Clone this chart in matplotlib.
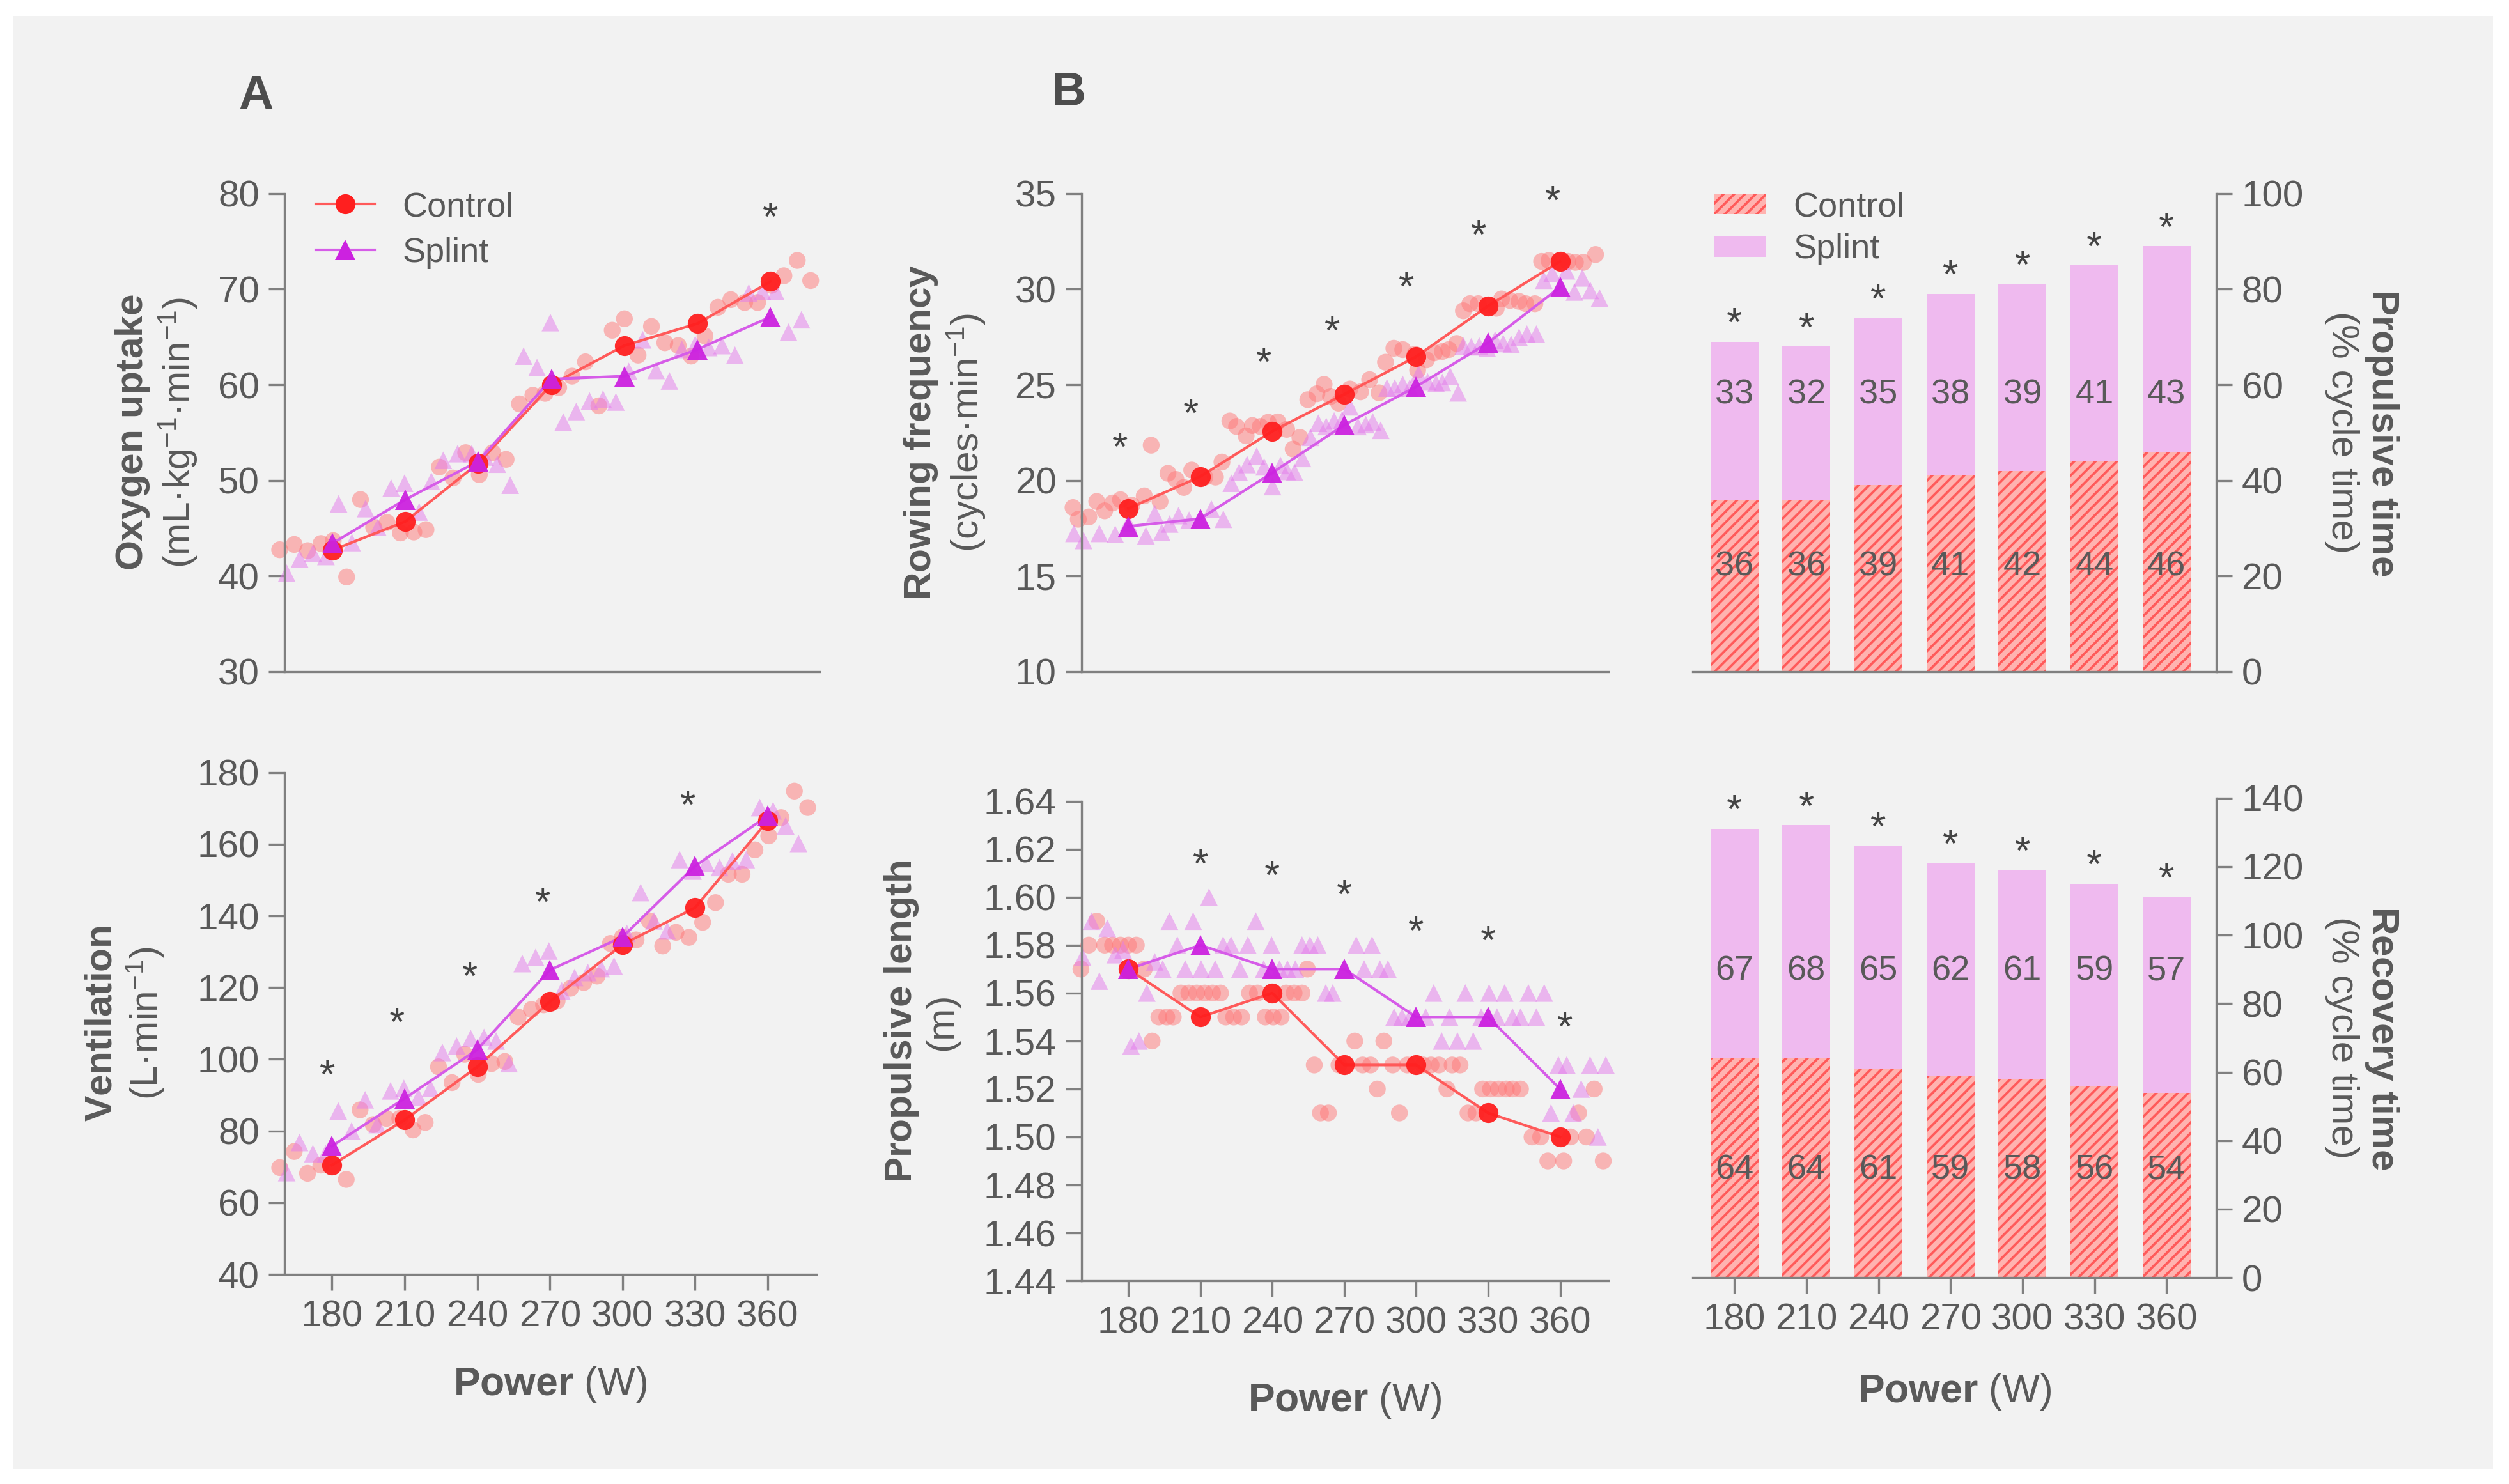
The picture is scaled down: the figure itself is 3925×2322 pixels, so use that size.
import numpy as np
import matplotlib
matplotlib.use('Agg')
import matplotlib.pyplot as plt
from matplotlib.lines import Line2D
from matplotlib.patches import Patch, Rectangle

plt.rcParams['font.family'] = ['Liberation Sans', 'DejaVu Sans']
plt.rcParams['mathtext.fontset'] = 'custom'
plt.rcParams['mathtext.rm'] = 'Liberation Sans'
plt.rcParams['mathtext.bf'] = 'Liberation Sans:bold'
plt.rcParams['mathtext.it'] = 'Liberation Sans:italic'
plt.rcParams['hatch.linewidth'] = 0.9

TXT = '#595959'
SPINE = '#808080'

power = [180, 210, 240, 270, 300, 330, 360]

# ---------------- oxygen uptake ----------------
vo2_ctrl_mean = [42.7, 45.7, 51.8, 60.0, 64.1, 66.4, 70.8]
vo2_spl_mean = [43.4, 48.0, 52.0, 60.6, 60.9, 63.7, 67.1]
pos_ctrl_a = [158.4, 164.4, 169.9, 175.4, 180.4, 185.9, 191.6, 197.0, 202.5, 208.0, 213.5,
              218.5, 224.0, 229.6, 234.8, 240.4, 245.9, 251.4, 256.9, 262.4, 267.4, 273.0,
              278.5, 284.0, 289.5, 295.0, 300.0, 305.6, 311.1, 316.6, 322.1, 327.4, 333.1,
              338.4, 343.7, 349.4, 354.7, 360.4, 365.5, 371.0, 376.5]
pos_spl_a = [161.3, 166.6, 172.1, 177.4, 182.6, 188.1, 193.7, 198.7, 204.2, 209.7, 215.7,
             220.7, 225.6, 231.5, 237.3, 242.8, 247.8, 253.1, 258.6, 264.1, 269.6, 274.9,
             280.2, 285.7, 291.2, 296.5, 301.8, 307.5, 313.0, 318.5, 323.6, 329.1, 334.6,
             340.1, 345.4, 351.1, 356.7, 362.2, 367.4, 372.7]
vo2_ctrl_pts = [42.75, 43.3, 42.65, 43.4, 43.7, 39.9, 48.0, 45.1, 45.6, 44.5, 44.6, 44.85,
                51.4, 50.25, 52.9, 50.6, 52.9, 52.2, 58.0, 58.9, 59.1, 59.7, 60.9, 62.4,
                57.8, 65.7, 66.9, 63.1, 66.1, 64.4, 64.1, 63.0, 65.1, 68.1, 68.9, 68.6,
                68.6, 70.4, 71.4, 73.0, 70.9]
vo2_spl_pts = [40.3, 41.8, 42.4, 42.05, 47.55, 43.5, 47.05, 45.1, 49.2, 49.7, 46.7, 49.9,
               52.1, 52.8, 52.8, 52.45, 51.7, 49.5, 63.0, 61.8, 66.5, 56.1, 57.2, 58.3,
               58.5, 58.2, 61.4, 64.7, 61.5, 60.4, 63.7, 64.2, 63.9, 64.1, 63.1, 69.6,
               69.75, 69.75, 65.5, 66.8]
vo2_star = [(360, 77.3)]

# ---------------- ventilation ----------------
ve_ctrl_mean = [70.5, 83.1, 97.9, 116.1, 132.0, 142.3, 166.5]
ve_spl_mean = [75.8, 89.1, 102.7, 124.9, 134.1, 153.9, 167.9]
ve_ctrl_pts = [69.8, 74.3, 68.2, 70.5, 70.7, 66.5, 85.9, 81.8, 83.5, 83.5, 80.3, 82.4,
               97.9, 93.5, 101.4, 95.8, 98.8, 99.4, 111.8, 113.9, 115.2, 116.3, 119.8,
               121.4, 123.2, 132.3, 134.1, 133.3, 138.6, 131.6, 135.4, 134.0, 138.2,
               143.7, 151.6, 151.6, 158.4, 162.3, 167.4, 174.8, 170.2]
ve_spl_pts = [68.4, 76.8, 73.7, 73.7, 85.6, 80.0, 88.7, 81.8, 91.2, 91.9, 89.4, 91.9,
              101.9, 103.7, 105.8, 106.1, 105.1, 98.8, 126.7, 128.4, 130.2, 119.1, 122.8,
              124.2, 125.3, 126.0, 135.1, 146.5, 138.6, 135.8, 155.7, 152.5, 154.6, 153.5,
              155.3, 155.7, 170.2, 169.3, 165.1, 160.2]
ve_star = [(178, 95.0), (207, 109.7), (237, 122.5), (267, 143.2), (327, 170.2)]

# ---------------- rowing frequency ----------------
rf_ctrl_mean = [18.53, 20.2, 22.57, 24.5, 26.47, 29.12, 31.45]
rf_spl_mean = [17.6, 18.0, 20.4, 22.9, 24.9, 27.2, 30.1]
rf_ctrl_x = [156.9, 159.1, 163.5, 166.8, 170.1, 173.4, 176.7, 181.5, 186.6, 189.5,
             193.2, 196.5, 199.8, 203.1, 206.4, 211.9, 216.3, 219.0, 222.3, 225.1,
             229.1, 231.7, 235.0, 238.3, 242.3, 246.0, 248.7, 251.5, 254.8, 258.6,
             261.6, 264.3, 267.6, 272.4, 276.8, 280.6, 284.5, 287.2, 290.7, 294.4,
             299.5, 300.6, 304.3, 307.6, 310.9, 313.6, 316.9, 319.7, 322.4, 325.9,
             330.3, 333.4, 335.6, 339.1, 342.9, 345.7, 349.5, 352.3, 355.4, 359.4,
             363.3, 366.4, 369.7, 374.8]
rf_ctrl_pts = [18.58, 17.97, 18.09, 18.9, 18.41, 18.82, 18.99, 18.70, 19.19, 21.84,
               18.9, 20.37, 20.05, 19.63, 20.54, 20.17, 20.17, 20.96, 23.11, 22.82,
               22.33, 22.87, 22.82, 23.04, 23.06, 22.67, 21.64, 22.25, 24.22, 24.53,
               25.02, 24.39, 24.04, 24.78, 24.63, 25.27, 24.58, 26.18, 26.91, 26.84,
               26.59, 25.76, 26.30, 26.67, 26.74, 26.84, 27.16, 28.87, 29.24, 29.24,
               29.17, 29.0, 29.49, 29.41, 29.36, 29.24, 29.24, 31.45, 31.5, 31.45,
               31.45, 31.4, 31.4, 31.81]
rf_spl_x = [157.3, 161.3, 167.9, 174.5, 180.0, 187.3, 191.0, 193.9, 197.2, 200.9,
            205.3, 209.7, 214.6, 219.6, 222.9, 226.2, 229.5, 233.5, 236.6, 240.1,
            243.4, 246.2, 249.3, 252.6, 255.9, 259.2, 262.5, 265.8, 269.1, 272.4,
            275.7, 279.0, 281.9, 285.2, 287.8, 291.1, 294.4, 297.3, 301.0, 304.8,
            308.3, 310.9, 314.2, 317.5, 319.7, 323.0, 326.3, 329.6, 332.9, 336.3,
            339.6, 342.9, 346.2, 350.1, 353.2, 356.7, 360.0, 362.7, 366.0, 369.3,
            372.6, 376.5]
rf_spl_pts = [17.23, 16.86, 17.23, 17.18, 17.77, 17.11, 18.26, 17.28, 17.72, 18.16,
              17.92, 17.97, 18.50, 17.97, 19.85, 20.42, 20.83, 21.27, 20.71, 19.68,
              20.78, 20.47, 20.42, 21.15, 22.25, 22.99, 22.82, 23.11, 23.16, 23.85,
              22.82, 22.92, 23.06, 22.62, 24.83, 24.83, 25.02, 24.83, 25.56, 25.15,
              25.07, 25.12, 25.44, 24.58, 27.03, 26.99, 27.03, 26.91, 27.33, 27.16,
              27.11, 27.48, 27.65, 27.65, 30.47, 30.83, 30.1, 30.96, 29.85, 30.59,
              29.93, 29.53]
rf_star = [(176.5, 21.6), (206, 23.4), (236.5, 26.05), (265, 27.7), (296, 30.0),
           (326, 32.7), (357, 34.5)]

# ---------------- propulsive length ----------------
pl_ctrl_mean = [1.57, 1.55, 1.56, 1.53, 1.53, 1.51, 1.50]
pl_spl_mean = [1.57, 1.58, 1.57, 1.57, 1.55, 1.55, 1.52]
pl_ctrl_x = [160.2, 163.5, 166.8, 170.1, 173.4, 176.7, 180.0, 183.3, 186.6, 189.9,
             192.7, 196.0, 198.7, 201.9, 205.2, 208.5, 211.8, 215.1, 218.4, 220.6,
             223.9, 227.2, 230.5, 233.8, 237.1, 240.4, 243.7, 245.8, 249.1, 252.4,
             254.6, 257.5, 260.1, 263.4, 267.8, 274.4, 277.7, 281.0, 283.8, 286.5,
             290.2, 293.0, 296.3, 302.9, 306.2, 309.5, 312.8, 315.0, 318.3, 321.6,
             324.9, 327.7, 331.0, 334.3, 337.6, 340.2, 343.5, 348.3, 351.9, 354.9,
             361.5, 364.4, 367.7, 371.0, 374.2, 378.0]
pl_ctrl_pts = [1.57, 1.58, 1.59, 1.58, 1.58, 1.58, 1.58, 1.58, 1.57, 1.54,
               1.55, 1.55, 1.55, 1.56, 1.56, 1.56, 1.56, 1.56, 1.56, 1.55,
               1.55, 1.55, 1.56, 1.56, 1.55, 1.55, 1.55, 1.56, 1.56, 1.56,
               1.57, 1.53, 1.51, 1.51, 1.53, 1.54, 1.53, 1.53, 1.52, 1.54,
               1.53, 1.51, 1.53, 1.53, 1.53, 1.53, 1.52, 1.53, 1.53, 1.51,
               1.51, 1.52, 1.52, 1.52, 1.52, 1.52, 1.52, 1.50, 1.50, 1.49,
               1.49, 1.50, 1.51, 1.50, 1.52, 1.49]
pl_spl_x = [160.9, 164.6, 167.9, 171.2, 174.5, 177.8, 181.1, 184.4, 187.7, 191.0,
            194.3, 197.1, 200.4, 203.7, 207.0, 210.3, 213.6, 216.2, 219.5, 222.8,
            226.5, 229.8, 233.1, 236.4, 239.7, 243.0, 246.3, 249.6, 252.4, 255.7,
            259.0, 262.3, 265.2, 270.0, 275.0, 278.3, 281.6, 284.9, 288.2, 290.8,
            294.1, 297.4, 304.0, 307.3, 310.6, 313.9, 317.2, 320.5, 323.8, 327.1,
            330.4, 333.7, 336.9, 340.2, 343.5, 346.8, 350.1, 353.4, 356.2, 359.3,
            362.8, 365.5, 368.8, 372.5, 375.8, 379.1]
pl_spl_pts = [1.575, 1.59, 1.565, 1.587, 1.576, 1.578, 1.538, 1.54, 1.56, 1.573,
              1.57, 1.59, 1.58, 1.57, 1.59, 1.57, 1.60, 1.57, 1.58, 1.58,
              1.57, 1.58, 1.59, 1.57, 1.58, 1.57, 1.57, 1.57, 1.58, 1.58,
              1.58, 1.56, 1.56, 1.57, 1.58, 1.57, 1.58, 1.57, 1.57, 1.55,
              1.55, 1.55, 1.55, 1.56, 1.54, 1.55, 1.54, 1.56, 1.54, 1.55,
              1.56, 1.55, 1.56, 1.55, 1.55, 1.56, 1.55, 1.56, 1.51, 1.53,
              1.53, 1.51, 1.52, 1.53, 1.50, 1.53]
pl_star = [(210, 1.613), (240, 1.608), (270, 1.600), (300, 1.585), (330, 1.581), (362, 1.545)]

# ---------------- phase times (bars) ----------------
prop_ctrl = [36, 36, 39, 41, 42, 44, 46]
prop_spl = [33, 32, 35, 38, 39, 41, 43]
rec_ctrl = [64, 64, 61, 59, 58, 56, 54]
rec_spl = [67, 68, 65, 62, 61, 59, 57]

C_MEAN = '#ff1f1f'
C_LINE = '#ff5a5a'
C_PT = '#ff7777'
S_MEAN = '#cc22e0'
S_LINE = '#d65ce8'
S_PT = '#e47aec'
BAR_S = '#efbaef'
BAR_C = '#ffb3b0'
HATCH_C = '#ff5a5a'

W, H = 3925, 2322
fig = plt.figure(figsize=(W / 300, H / 300), dpi=300, facecolor='white')
fig.patches.append(Rectangle((20 / W, 1 - 2298 / H), 3880 / W, 2273 / H,
                             transform=fig.transFigure, facecolor='#f2f2f2',
                             edgecolor='none', zorder=-10))


def new_ax(l, r, t, b):
    ax = fig.add_axes([l, b, r - l, t - b])
    ax.set_facecolor('none')
    for s in ax.spines.values():
        s.set_color(SPINE)
        s.set_linewidth(0.8)
    ax.tick_params(colors=SPINE, labelcolor=TXT, labelsize=14, width=0.8, length=6)
    return ax


def line_panel(ax, cx, cp, sx, sp, cm, sm, stars):
    ax.scatter(cx, cp, s=40, marker='o', color=C_PT, alpha=0.5, edgecolors='none',
               clip_on=False, zorder=2)
    ax.scatter(sx, sp, s=44, marker='^', color=S_PT, alpha=0.5, edgecolors='none',
               clip_on=False, zorder=2)
    ax.plot(power, cm, '-', color=C_LINE, lw=1.0, zorder=3)
    ax.plot(power, sm, '-', color=S_LINE, lw=1.0, zorder=3)
    ax.plot(power, cm, 'o', color=C_MEAN, ms=7.5, mec='none', alpha=0.95, zorder=4)
    ax.plot(power, sm, '^', color=S_MEAN, ms=7.5, mec='none', alpha=0.95, zorder=4)
    for x, y in stars:
        ax.text(x, y, '*', ha='center', va='center', fontsize=15, color='#444444')
    ax.spines['top'].set_visible(False)
    ax.spines['right'].set_visible(False)
    ax.set_xlim(160.5, 380)


def ylab(ax, x, bold, normal, y=0.5, rot=90):
    ax.text(x, y, bold + '\n' + normal, transform=ax.transAxes, rotation=rot,
            ha='center', va='center', fontsize=14.5, color=TXT, linespacing=1.15,
            multialignment='center')


def xlab(ax, y):
    ax.text(0.5, y, r'$\bf{Power}$ (W)', transform=ax.transAxes, ha='center',
            va='center', fontsize=15, color=TXT)


# ---- A top
ax = new_ax(0.1135, 0.3265, 0.8696, 0.5474)
line_panel(ax, pos_ctrl_a, vo2_ctrl_pts, pos_spl_a, vo2_spl_pts,
           vo2_ctrl_mean, vo2_spl_mean, vo2_star)
ax.set_ylim(30, 80)
ax.set_yticks(range(30, 81, 10))
ax.set_xticks([])
ylab(ax, -0.24, r'$\bf{Oxygen\ uptake}$', r'(mL·kg$^{-1}$·min$^{-1}$)')
h = [Line2D([], [], color=C_LINE, lw=1.0, marker='o', ms=7.5, mfc=C_MEAN, mec='none'),
     Line2D([], [], color=S_LINE, lw=1.0, marker='^', ms=7.5, mfc=S_MEAN, mec='none')]
ax.legend(h, ['Control', 'Splint'], loc='upper left', bbox_to_anchor=(0.0, 1.07),
          frameon=False, fontsize=13, handlelength=1.7, handletextpad=0.8,
          labelspacing=0.4, labelcolor=TXT)

# ---- A bottom
ax = new_ax(0.1135, 0.3253, 0.4795, 0.1412)
line_panel(ax, pos_ctrl_a, ve_ctrl_pts, pos_spl_a, ve_spl_pts,
           ve_ctrl_mean, ve_spl_mean, ve_star)
ax.set_ylim(40, 180)
ax.set_yticks(range(40, 181, 20))
ax.set_xticks(power)
ylab(ax, -0.30, r'$\bf{Ventilation}$', r'(L·min$^{-1}$)')
xlab(ax, -0.22)

# ---- B top
ax = new_ax(0.4311, 0.6409, 0.8696, 0.5474)
line_panel(ax, rf_ctrl_x, rf_ctrl_pts, rf_spl_x, rf_spl_pts,
           rf_ctrl_mean, rf_spl_mean, rf_star)
ax.set_ylim(10, 35)
ax.set_yticks(range(10, 36, 5))
ax.set_xticks([])
ylab(ax, -0.26, r'$\bf{Rowing\ frequency}$', r'(cycles·min$^{-1}$)')

# ---- B bottom
ax = new_ax(0.4311, 0.6409, 0.4601, 0.1369)
line_panel(ax, pl_ctrl_x, pl_ctrl_pts, pl_spl_x, pl_spl_pts,
           pl_ctrl_mean, pl_spl_mean, pl_star)
ax.set_ylim(1.44, 1.64)
yt = np.round(np.arange(1.44, 1.641, 0.02), 2)
ax.set_yticks(yt)
ax.set_yticklabels([f'{v:.2f}' for v in yt])
ax.set_xticks(power)
ylab(ax, -0.305, r'$\bf{Propulsive\ length}$', '(m)', y=0.54)
xlab(ax, -0.25)


def bar_panel(ax, ctrl, spl, yc, ys, ymax, step):
    ax.bar(power, ctrl, width=20, color=BAR_C, edgecolor=HATCH_C, linewidth=0,
           hatch='//////', zorder=2)
    ax.bar(power, spl, width=20, bottom=ctrl, color=BAR_S, edgecolor='none',
           linewidth=0, zorder=2)
    for x, c, s in zip(power, ctrl, spl):
        ax.text(x, yc, f'{c}', ha='center', va='center', fontsize=13, color=TXT, zorder=3)
        ax.text(x, ys, f'{s}', ha='center', va='center', fontsize=13, color=TXT, zorder=3)
        ax.text(x, c + s + ymax * 0.035, '*', ha='center', va='center', fontsize=15,
                color='#444444')
    ax.spines['top'].set_visible(False)
    ax.spines['left'].set_visible(False)
    ax.yaxis.tick_right()
    ax.set_xlim(162.7, 380.7)
    ax.set_ylim(0, ymax)
    ax.set_yticks(range(0, ymax + 1, step))


# ---- bars top
ax = new_ax(0.6747, 0.8833, 0.8696, 0.5474)
bar_panel(ax, prop_ctrl, prop_spl, 22, 58, 100, 20)
ax.set_xticks([])
ylab(ax, 1.28, r'$\bf{Propulsive\ time}$', '(% cycle time)', rot=270)
hb = [Patch(facecolor=BAR_C, edgecolor=HATCH_C, linewidth=0, hatch='//////'),
      Patch(facecolor=BAR_S, edgecolor='none')]
ax.legend(hb, ['Control', 'Splint'], loc='upper left', bbox_to_anchor=(-0.02, 1.07),
          frameon=False, fontsize=13, handlelength=1.5, handleheight=0.55,
          handletextpad=0.8, labelspacing=0.3, labelcolor=TXT)

# ---- bars bottom
ax = new_ax(0.6747, 0.8833, 0.4623, 0.139)
bar_panel(ax, rec_ctrl, rec_spl, 31.5, 89.5, 140, 20)
ax.set_xticks(power)
ylab(ax, 1.28, r'$\bf{Recovery\ time}$', '(% cycle time)', rot=270)
xlab(ax, -0.237)

fig.text(0.102, 0.935, 'A', fontsize=18, fontweight='bold', color='#4d4d4d',
         ha='center', va='center')
fig.text(0.426, 0.9375, 'B', fontsize=18, fontweight='bold', color='#4d4d4d',
         ha='center', va='center')

fig.savefig('out.png', dpi=300, facecolor='white')
